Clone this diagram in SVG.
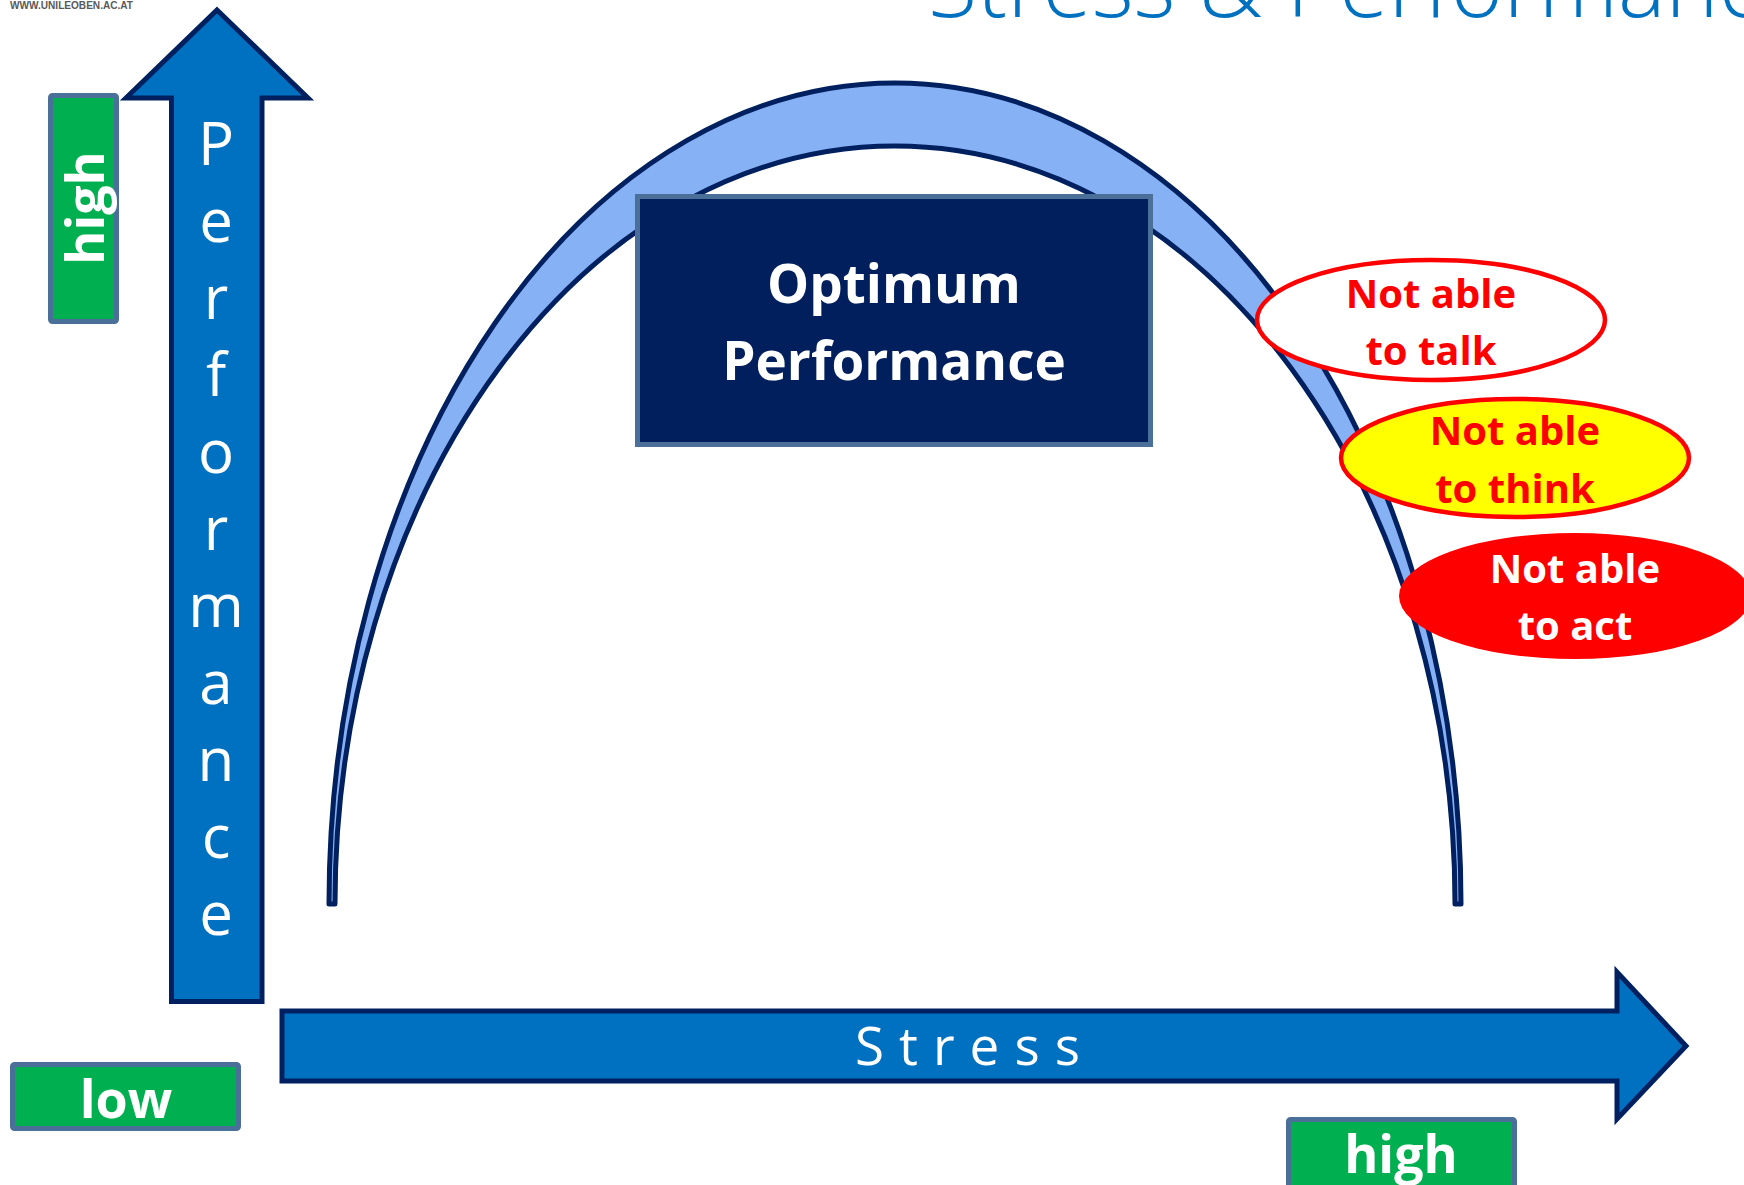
<svg xmlns="http://www.w3.org/2000/svg" width="1744" height="1185" viewBox="0 0 1744 1185">
  <style>
    .axis { fill: #0070C0; stroke: #002060; stroke-width: 5; stroke-linejoin: miter; }
    .axisTxt { fill: #FFFFFF; font-family: "Open Sans", "Liberation Sans", sans-serif; font-size: 60px; text-anchor: middle; }
    .tag { fill: #00B050; stroke: #4A6F98; stroke-width: 5; }
    .tagTxt { fill: #FFFFFF; font-family: "Open Sans", "Liberation Sans", sans-serif; font-weight: bold; font-size: 52px; text-anchor: middle; }
    .state { font-family: "Open Sans", "Liberation Sans", sans-serif; font-weight: bold; font-size: 40px; text-anchor: middle; }
  </style>

  <rect width="1744" height="1185" fill="#FFFFFF"/>

  <!-- header -->
  <text x="10" y="8.5" font-family="Liberation Sans, Arial, sans-serif" font-weight="bold" font-size="11" fill="#595959" textLength="123" lengthAdjust="spacingAndGlyphs">WWW.UNILEOBEN.AC.AT</text>
  <text x="928" y="17" font-family="Open Sans, Liberation Sans, sans-serif" font-weight="300" font-size="90" fill="#0070C0">Stress &amp; Performance</text>

  <!-- performance curve band -->
  <g id="curve">
    <path d="M 329 904 A 566 821 0 0 1 1461 904 L 1455 904 A 560 758 0 0 0 335 904 Z" fill="#86B1F4" stroke="#002060" stroke-width="5" stroke-linejoin="round"/>
  </g>

  <!-- optimum box -->
  <g id="optimum">
    <rect x="637.5" y="196.5" width="513" height="248" fill="#001F5C" stroke="#4A6F98" stroke-width="5"/>
    <text x="894" y="303" fill="#FFFFFF" font-family="Open Sans, Liberation Sans, sans-serif" font-weight="bold" font-size="53" text-anchor="middle">Optimum</text>
    <text x="894" y="380" fill="#FFFFFF" font-family="Open Sans, Liberation Sans, sans-serif" font-weight="bold" font-size="53" text-anchor="middle">Performance</text>
  </g>

  <!-- stress states -->
  <g id="talk">
    <ellipse cx="1431" cy="320" rx="174" ry="60" fill="#FFFFFF" stroke="#FF0000" stroke-width="4.5"/>
    <text class="state" x="1431" y="308" fill="#FF0000">Not able</text>
    <text class="state" x="1431" y="365" fill="#FF0000">to talk</text>
  </g>
  <g id="think">
    <ellipse cx="1515" cy="458" rx="174" ry="59" fill="#FFFF00" stroke="#FF0000" stroke-width="4.5"/>
    <text class="state" x="1515" y="445" fill="#FF0000">Not able</text>
    <text class="state" x="1515" y="503" fill="#FF0000">to think</text>
  </g>
  <g id="act">
    <ellipse cx="1575" cy="596" rx="176" ry="63" fill="#FF0000"/>
    <text class="state" x="1575" y="583" fill="#FFFFFF">Not able</text>
    <text class="state" x="1575" y="640" fill="#FFFFFF">to act</text>
  </g>

  <!-- axes -->
  <g id="connectors">
    <path id="perf-axis" class="axis" d="M 217 10 L 308 98 L 262 98 L 262 1001.5 L 171.5 1001.5 L 171.5 98 L 126 98 Z"/>
    <path id="stress-axis" class="axis" d="M 282 1011 L 1617 1011 L 1617 972 L 1686 1046 L 1617 1119 L 1617 1081 L 282 1081 Z"/>
  </g>

  <g id="perf-label">
    <text class="axisTxt" x="216" y="165">P</text>
    <text class="axisTxt" x="216" y="242">e</text>
    <text class="axisTxt" x="216" y="319">r</text>
    <text class="axisTxt" x="216" y="396">f</text>
    <text class="axisTxt" x="216" y="473">o</text>
    <text class="axisTxt" x="216" y="550">r</text>
    <text class="axisTxt" x="216" y="627">m</text>
    <text class="axisTxt" x="216" y="704">a</text>
    <text class="axisTxt" x="216" y="781">n</text>
    <text class="axisTxt" x="216" y="858">c</text>
    <text class="axisTxt" x="216" y="935">e</text>
  </g>
  <g id="stress-label">
    <text x="855" y="1065" fill="#FFFFFF" font-family="Open Sans, Liberation Sans, sans-serif" font-size="53" letter-spacing="15">Stress</text>
  </g>

  <!-- scale tags -->
  <g id="perf-high">
    <rect class="tag" x="50.5" y="95.5" width="66" height="226" rx="2"/>
    <text class="tagTxt" transform="translate(104 208) rotate(-90)" x="0" y="0">high</text>
  </g>
  <g id="low">
    <rect class="tag" x="12.5" y="1064.5" width="226" height="64" rx="2"/>
    <text class="tagTxt" x="126" y="1118">low</text>
  </g>
  <g id="stress-high">
    <rect class="tag" x="1288.5" y="1119.5" width="226" height="70" rx="2"/>
    <text class="tagTxt" x="1401" y="1173">high</text>
  </g>
</svg>
